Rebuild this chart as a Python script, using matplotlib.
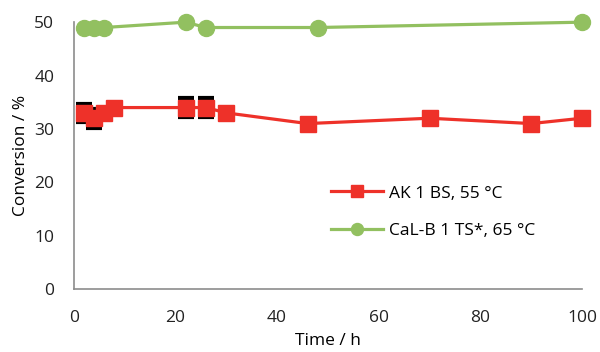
import matplotlib
matplotlib.use("Agg")
import matplotlib.pyplot as plt

# data
red_time = [2, 4, 6, 8, 22, 26, 30, 46, 70, 90, 100]
red_conv = [33, 32, 33, 34, 34, 34, 33, 31, 32, 31, 32]
red_err = [1.7, 1.8, 0, 0, 1.8, 1.8, 0, 0, 0, 0, 0]
green_time = [2, 4, 6, 22, 26, 48, 100]
green_conv = [49, 49, 49, 50, 49, 49, 50]

red = "#EE3129"
green = "#92C060"
axis_grey = "#8C8C8C"

plt.rcParams["font.family"] = ["Open Sans", "DejaVu Sans"]

fig = plt.figure(figsize=(6, 3.52), dpi=100)
ax = fig.add_axes([0.123, 0.179, 0.847, 0.758])

ax.errorbar(red_time, red_conv, yerr=red_err, fmt="none", ecolor="black",
            elinewidth=2, capsize=6, capthick=3, zorder=2)
ax.plot(red_time, red_conv, color=red, lw=2.3, marker="s", ms=11,
        label="AK 1 BS, 55 °C", zorder=3, clip_on=False)
ax.plot(green_time, green_conv, color=green, lw=2.3, marker="o", ms=11.5,
        label="CaL-B 1 TS*, 65 °C", zorder=3, clip_on=False)

ax.set_xlim(0, 100)
ax.set_ylim(0, 50)
ax.set_xticks(range(0, 101, 20))
ax.set_yticks(range(0, 51, 10))
ax.tick_params(length=0, labelsize=12.5, colors="#222222")
ax.tick_params(axis="x", pad=15)
ax.tick_params(axis="y", pad=14)
for s in ["top", "right"]:
    ax.spines[s].set_visible(False)
for s in ["left", "bottom"]:
    ax.spines[s].set_color(axis_grey)
    ax.spines[s].set_linewidth(1.2)
ax.set_xlabel("Time / h", fontsize=12.5, labelpad=5)
ax.set_ylabel("Conversion / %", fontsize=12.5, labelpad=4)

ax.legend(loc="center left", bbox_to_anchor=(0.476, 0.287), frameon=False,
          fontsize=12.5, handlelength=3.0, handletextpad=0.3,
          labelspacing=1.25, markerscale=0.75)

fig.savefig("out.png", dpi=100)
